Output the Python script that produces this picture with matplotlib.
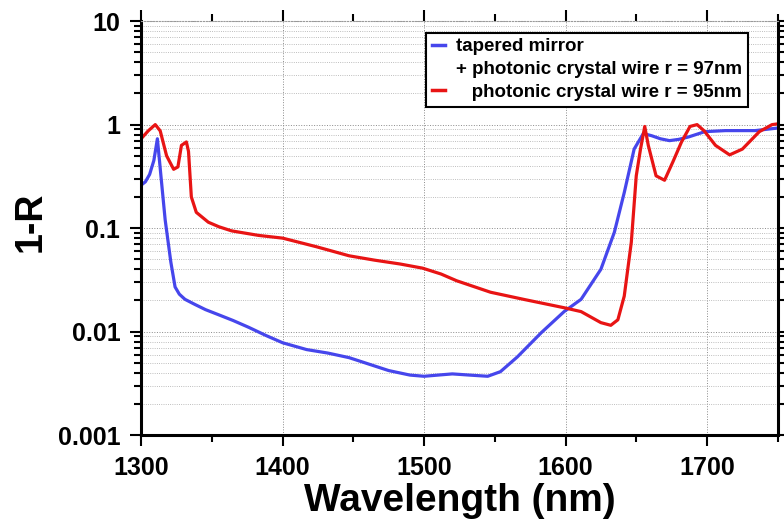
import numpy as np
import matplotlib
matplotlib.use("Agg")
import matplotlib.pyplot as plt
from matplotlib.lines import Line2D
from matplotlib.ticker import LogLocator, FixedLocator, MultipleLocator

plt.rcParams["font.family"] = ["Liberation Sans", "DejaVu Sans"]
plt.rcParams["font.weight"] = "bold"

BLUE = "#4646ec"
RED = "#e81414"

# tapered mirror + photonic crystal wire r = 97nm
blue_wl = [1300, 1303, 1306, 1309, 1311.5, 1314, 1317, 1321, 1324, 1327,
           1331, 1338, 1345.5, 1355, 1365, 1376, 1388, 1400, 1417, 1432,
           1447, 1460, 1475, 1490, 1500, 1510, 1520, 1532, 1545, 1554, 1566,
           1583, 1599, 1611, 1625, 1634.5, 1641.5, 1648.5, 1655, 1661,
           1667, 1673.5, 1680, 1687, 1698.5, 1713, 1734, 1751]
blue_r = [0.26, 0.28, 0.33, 0.45, 0.73, 0.32, 0.12, 0.047, 0.027, 0.023,
          0.0205, 0.0183, 0.0163, 0.0145, 0.0128, 0.011, 0.0092, 0.0078,
          0.0067, 0.0062, 0.0056, 0.0049, 0.0042, 0.0038, 0.0037, 0.0038,
          0.0039, 0.0038, 0.0037, 0.0041, 0.0057, 0.0098, 0.0156, 0.0205,
          0.040, 0.091, 0.22, 0.58, 0.82, 0.78, 0.73, 0.70, 0.72, 0.76,
          0.855, 0.875, 0.875, 0.93]

# photonic crystal wire r = 95nm
red_wl = [1300, 1305, 1310, 1313.5, 1318, 1323, 1326, 1328.5, 1332, 1333.5,
          1335.5, 1339, 1347.5, 1355, 1364, 1383, 1400, 1424, 1447, 1465,
          1483, 1499, 1512, 1523, 1547, 1571, 1599, 1611, 1625, 1632, 1637,
          1641.5, 1646.5, 1650, 1653, 1656, 1658.5, 1664, 1670, 1676, 1682,
          1688, 1693, 1698, 1706, 1716, 1725, 1737, 1746, 1751]
red_r = [0.73, 0.87, 1.0, 0.87, 0.50, 0.37, 0.39, 0.63, 0.68, 0.55, 0.20,
         0.142, 0.114, 0.103, 0.094, 0.085, 0.080, 0.066, 0.054, 0.049,
         0.045, 0.041, 0.036, 0.031, 0.024, 0.0204, 0.017, 0.0156, 0.0122,
         0.0115, 0.013, 0.022, 0.073, 0.32, 0.58, 0.96, 0.63, 0.32, 0.29,
         0.44, 0.68, 0.96, 1.0, 0.87, 0.63, 0.51, 0.58, 0.855, 1.0, 1.02]

fig = plt.figure(figsize=(7.84, 5.28), dpi=100)
ax = fig.add_axes([0.180, 0.176, 0.812, 0.784])

ax.plot(blue_wl, blue_r, color=BLUE, lw=2.3, solid_joinstyle="round")
ax.plot(red_wl, red_r, color=RED, lw=2.3, solid_joinstyle="round")

ax.set_yscale("log")
ax.set_xlim(1300, 1750)
ax.set_ylim(0.001, 10)
ax.xaxis.set_major_locator(FixedLocator([1300, 1400, 1500, 1600, 1700]))
ax.xaxis.set_minor_locator(MultipleLocator(50))
ax.yaxis.set_minor_locator(LogLocator(base=10, subs=np.arange(2, 10), numticks=20))
ax.set_yticks([0.001, 0.01, 0.1, 1, 10], ["0.001", "0.01", "0.1", "1", "10"])

ax.grid(which="major", axis="both", color="#8a8a8a", lw=0.7, ls=":")
ax.grid(which="minor", axis="y", color="#a8a8a8", lw=0.6, ls=":")

ax.tick_params(which="both", direction="out", top=True, right=True,
               colors="black", width=1.5)
ax.tick_params(which="major", length=8, labelsize=18, pad=7)
ax.tick_params(which="minor", length=5)
for s in ("left", "bottom", "right"):
    ax.spines[s].set_linewidth(2.2)
ax.spines["top"].set_color("#9a9a9a")
ax.spines["top"].set_linewidth(0.8)
ax.spines["top"].set_linestyle(":")

ax.set_xlabel("Wavelength (nm)", fontsize=28, fontweight="bold", labelpad=2)
ax.set_ylabel("1-R", fontsize=27, fontweight="bold")
ax.yaxis.set_label_coords(-0.146, 0.514)

handles = [Line2D([], [], color=BLUE, lw=2.5),
           Line2D([], [], color="none"),
           Line2D([], [], color=RED, lw=2.5)]
labels = ["tapered mirror",
          "+ photonic crystal wire r = 97nm",
          "   photonic crystal wire r = 95nm"]
leg = ax.legend(handles, labels, loc="upper left", bbox_to_anchor=(0.448, 0.972),
                fontsize=13.5, handlelength=0.7, handletextpad=0.6,
                labelspacing=0.3, borderpad=0.3, fancybox=False,
                framealpha=1, edgecolor="black", borderaxespad=0)
leg.get_frame().set_linewidth(1.5)

fig.savefig("out.png", dpi=100, facecolor="white")
